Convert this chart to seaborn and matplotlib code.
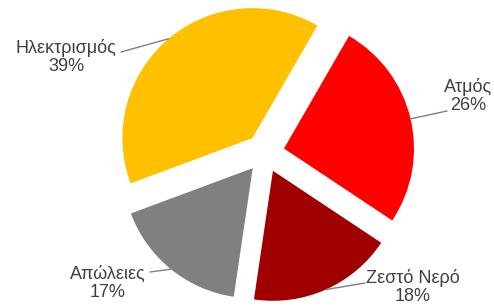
import numpy as np
import matplotlib
matplotlib.use("Agg")
import matplotlib.pyplot as plt
import seaborn as sns

# data
labels = ["Ηλεκτρισμός", "Ατμός", "Ζεστό Νερό", "Απώλειες"]
shares = [39, 26, 18, 17]
colors = ["#FFC000", "#FF0000", "#A00000", "#808080"]

# label layout (pixels in a 494x306 frame): text block centre and leader line end
text_px = [(66, 57), (468, 96), (413, 287), (108, 283)]
line_end_px = [(121, 52), (447, 111), (365, 283), (150, 272)]

sns.set_theme(style="white")
plt.rcParams['font.family'] = ['Liberation Sans', 'DejaVu Sans']

W, H = 494, 306
R = 130  # pie radius in pixels
cx, cy = 265, 153  # pie centre in pixels

def px2data(p):
    return ((p[0] - cx) / R, (cy - p[1]) / R)

fig = plt.figure(figsize=(W / 100, H / 100), dpi=100)
ax = fig.add_axes([0, 0, 1, 1])
wedges, _ = ax.pie(shares, colors=colors, startangle=200.4, counterclock=False,
                   explode=[0.15] * len(shares), radius=1,
                   wedgeprops=dict(linewidth=0), center=(0, 0))
ax.set_xlim(-cx / R, (W - cx) / R)
ax.set_ylim(-(H - cy) / R, cy / R)
ax.set_aspect('auto')
ax.axis('off')

total = sum(shares)
for w, lab, val, tp, lp in zip(wedges, labels, shares, text_px, line_end_px):
    mid = np.deg2rad((w.theta1 + w.theta2) / 2)
    ax0 = w.center[0] + w.r * np.cos(mid)
    ay0 = w.center[1] + w.r * np.sin(mid)
    lx, ly = px2data(lp)
    ax.plot([ax0, lx], [ay0, ly], color="#7f7f7f", lw=1.0, solid_capstyle='round')
    tx, ty = px2data(tp)
    ax.text(tx, ty, f"{lab}\n{round(val / total * 100)}%", ha='center', va='center',
            fontsize=13, color="#404040", linespacing=1.1)

fig.savefig("out.png", dpi=100)
